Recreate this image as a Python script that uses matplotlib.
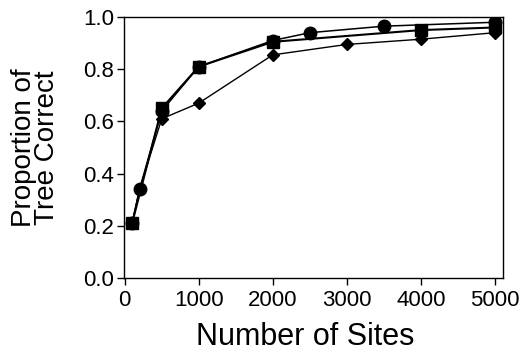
import matplotlib
matplotlib.use("Agg")
import matplotlib.pyplot as plt

plt.rcParams["font.family"] = ["Liberation Sans", "DejaVu Sans"]

# series
sites_circle = [100, 200, 500, 1000, 2000, 2500, 3500, 5000]
prop_circle = [0.21, 0.34, 0.64, 0.81, 0.91, 0.94, 0.965, 0.98]

sites_square = [100, 500, 1000, 2000, 4000, 5000]
prop_square = [0.21, 0.65, 0.81, 0.905, 0.95, 0.96]

sites_diamond = [100, 200, 500, 1000, 2000, 3000, 4000, 5000]
prop_diamond = [0.21, 0.34, 0.61, 0.67, 0.855, 0.895, 0.915, 0.94]

x_ticks = [0, 1000, 2000, 3000, 4000, 5000]
y_ticks = [0.0, 0.2, 0.4, 0.6, 0.8, 1.0]

fig = plt.figure(figsize=(5.22, 3.55), dpi=100)
ax = fig.add_axes([0.2375, 0.217, 0.726, 0.735])

ax.plot(sites_diamond, prop_diamond, color="black", linewidth=1.0,
        marker="D", markersize=6)
ax.plot(sites_circle, prop_circle, color="black", linewidth=1.1,
        marker="o", markersize=9)
ax.plot(sites_square, prop_square, color="black", linewidth=1.5,
        marker="s", markersize=8.5)

ax.set_xlim(-10, 5110)
ax.set_ylim(0.0, 1.0)
ax.set_xticks(x_ticks)
ax.set_yticks(y_ticks)
ax.set_yticklabels([f"{v:.1f}" for v in y_ticks])
ax.tick_params(labelsize=16, length=5, width=1, direction="out", pad=2)
ax.tick_params(axis="x", pad=4)
for s in ax.spines.values():
    s.set_linewidth(1.0)

ax.set_xlabel("Number of Sites", fontsize=22, labelpad=8)
ax.xaxis.set_label_coords(0.478, -0.17)
ax.set_ylabel("Proportion of\nTree Correct", fontsize=20, labelpad=17,
              linespacing=0.85)

fig.savefig("out.png", dpi=100)
